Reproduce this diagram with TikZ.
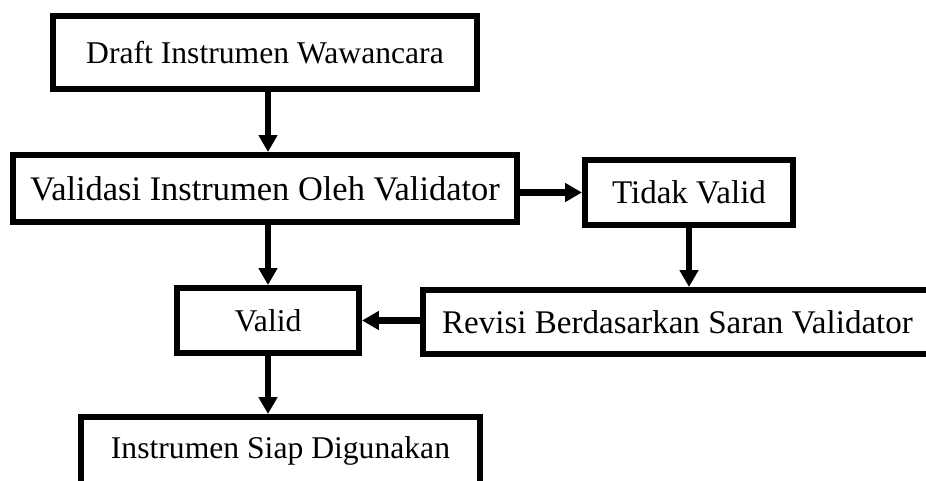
\documentclass[tikz,border=0pt]{standalone}
\usepackage{fontspec}
\setmainfont{Liberation Serif}
\usetikzlibrary{arrows.meta, positioning}

\begin{document}
\begin{tikzpicture}[
    >={Triangle[length=0.42cm, width=0.45cm]},
    % Style definitions
    flow box/.style={draw, line width=4.3pt, rectangle, inner sep=0pt, font=\fontsize{22.5}{27}\selectfont},
    big text/.style={font=\fontsize{24.5}{29}\selectfont},
    mid text/.style={font=\fontsize{23.5}{28}\selectfont},
    flow arrow/.style={->, line width=4.3pt}
]

% ==========================================
% Page frame (cuts the boxes at the edges)
% ==========================================
\clip (0,0) rectangle (23.15,12);

% ==========================================
% 1. BOXES
% ==========================================
\node[flow box, minimum width=10.6cm, minimum height=1.825cm] (draft) at (6.625, 10.6875) {Draft Instrumen Wawancara};
\node[flow box, big text, minimum width=12.6cm, minimum height=1.675cm] (validasi) at (6.625, 7.2875) {Validasi Instrumen Oleh Validator};
\node[flow box, mid text, minimum width=5.2cm, minimum height=1.625cm] (tidak) at (17.225, 7.1875) {Tidak Valid};
\node[flow box, minimum width=4.55cm, minimum height=1.625cm] (valid) at (6.7, 3.9875) {Valid};
\node[flow box, mid text, minimum width=12.725cm, minimum height=1.6cm] (revisi) at (16.9375, 3.95) {Revisi Berdasarkan Saran Validator\hspace{0.3cm}};
\node[flow box, minimum width=9.975cm, minimum height=1.7cm] (siap) at (7.0125, 0.725) {Instrumen Siap Digunakan};

% ==========================================
% 2. ARROWS
% ==========================================
\draw[flow arrow] (draft.south -| valid) -- (validasi.north -| valid);
\draw[flow arrow] (validasi.east |- tidak) -- (tidak.west);
\draw[flow arrow] (tidak.south) -- (tidak.south |- revisi.north);
\draw[flow arrow] (validasi.south -| valid) -- (valid.north);
\draw[flow arrow] (revisi.west |- valid) -- (valid.east);
\draw[flow arrow] (valid.south) -- (valid.south |- siap.north);

\end{tikzpicture}
\end{document}
